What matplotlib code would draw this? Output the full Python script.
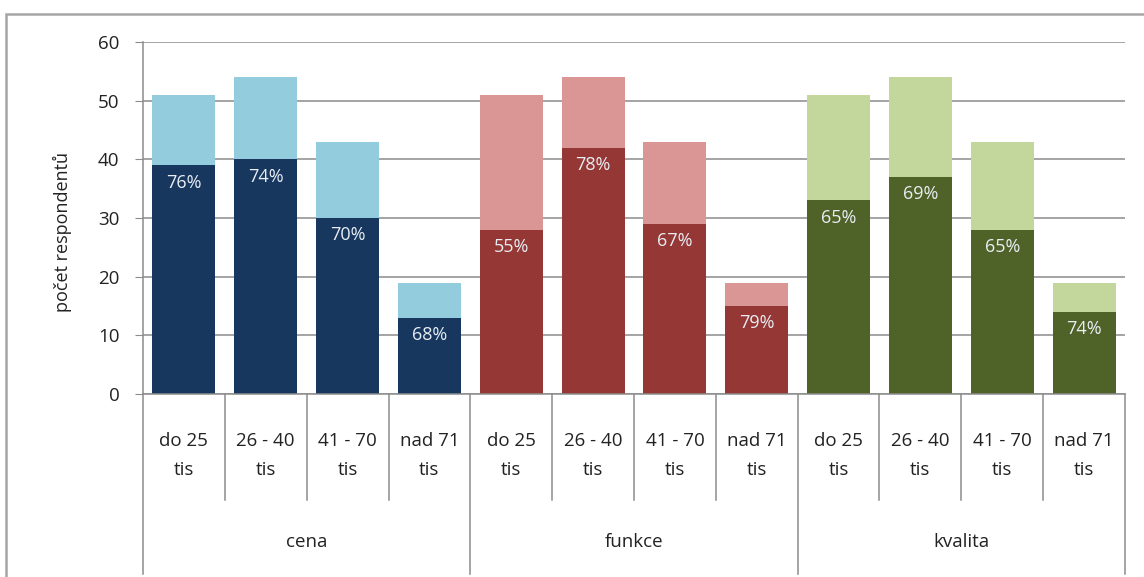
import matplotlib.pyplot as plt
from matplotlib.patches import Rectangle
from matplotlib.lines import Line2D
import matplotlib.transforms as mtransforms
import numpy as np

plt.rcParams['font.family'] = ['Open Sans', 'DejaVu Sans']

groups = ['cena', 'funkce', 'kvalita']
incomes = ['do 25\ntis', '26 - 40\ntis', '41 - 70\ntis', 'nad 71\ntis']
totals = [51, 54, 43, 19]
part = {
    'cena': [39, 40, 30, 13],
    'funkce': [28, 42, 29, 15],
    'kvalita': [33, 37, 28, 14],
}
dark = {'cena': '#17375E', 'funkce': '#953735', 'kvalita': '#4F6228'}
light = {'cena': '#93CDDD', 'funkce': '#D99694', 'kvalita': '#C3D69B'}

fig = plt.figure(figsize=(11.44, 5.77), dpi=100)
ax = fig.add_axes([143 / 1144, 1 - 394 / 577, 982 / 1144, 352 / 577])

# outer chart frame
fig.patches.append(Rectangle((6 / 1144, -0.05), 1.1, 0.05 + 1 - 14 / 577,
                             transform=fig.transFigure, fill=False,
                             edgecolor='#a6a6a6', lw=1.8))

w = 0.77
x = 0
for g in groups:
    for i, lab in enumerate(incomes):
        d = part[g][i]
        t = totals[i]
        ax.bar(x, d, width=w, color=dark[g], zorder=3)
        ax.bar(x, t - d, bottom=d, width=w, color=light[g], zorder=3)
        ax.annotate(f'{round(100 * d / t)}%', (x, d), xytext=(0, -6),
                    textcoords='offset points', ha='center', va='top',
                    color='#e8eef4', fontsize=13, zorder=4)
        x += 1

ax.set_xlim(-0.5, 11.5)
ax.set_ylim(0, 60)
ax.set_yticks(np.arange(0, 61, 10))
ax.yaxis.grid(True, color='#8c8c8c', lw=1.1, zorder=0)
ax.set_xticks([])
for s in ['top', 'right', 'bottom']:
    ax.spines[s].set_visible(False)
ax.spines['left'].set_color('#8c8c8c')
ax.spines['left'].set_linewidth(1.1)
ax.tick_params(axis='y', length=6, color='#8c8c8c', pad=11, labelsize=13.5,
               labelcolor='#222222')
ax.set_ylabel('počet respondentů', fontsize=13, color='#222222')
ax.yaxis.set_label_coords(-0.072, 0.46)

# baseline and category dividers below the axis
trans = mtransforms.blended_transform_factory(ax.transData, ax.transAxes)
ax.add_line(Line2D([-0.5, 11.5], [0, 0], transform=trans, color='#8c8c8c',
                   lw=1.1, clip_on=False, zorder=5))
for k in range(13):
    xe = k - 0.5
    bottom = -0.51 if k % 4 == 0 else -0.30
    ax.add_line(Line2D([xe, xe], [0, bottom], transform=trans, color='#8c8c8c',
                       lw=1.1, clip_on=False))
for k in range(12):
    ax.text(k, -0.175, incomes[k % 4], transform=trans, ha='center', va='center',
            fontsize=13.5, linespacing=1.75, color='#222222')
for j, g in enumerate(groups):
    ax.text(4 * j + 1.5, -0.42, g, transform=trans, ha='center', va='center',
            fontsize=13.5, color='#222222')

fig.savefig('out.png', dpi=100)
